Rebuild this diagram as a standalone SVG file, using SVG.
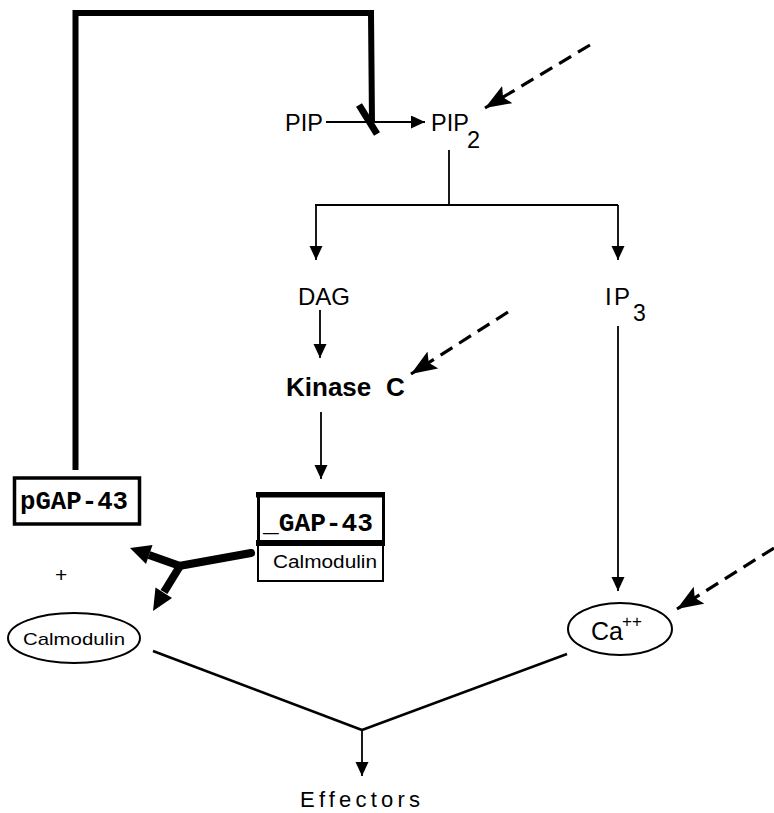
<svg xmlns="http://www.w3.org/2000/svg" width="774" height="813" viewBox="0 0 774 813">
<defs>
<style>
.t{font-family:"Liberation Sans",Arial,sans-serif;fill:#000}
.m{font-family:"Liberation Mono","DejaVu Sans Mono",monospace;font-weight:bold;fill:#000}
.ln{stroke:#000;stroke-width:1.8;fill:none}
.dash{stroke:#000;stroke-width:3.2;fill:none;stroke-dasharray:14 8}
.thick{stroke:#000;stroke-width:6;fill:none}
</style>
<marker id="ah" markerUnits="userSpaceOnUse" markerWidth="16" markerHeight="14" refX="14" refY="6.5" orient="auto">
<path d="M0,0 L14,6.5 L0,13 Z" fill="#000"/>
</marker>
<marker id="dh" markerUnits="userSpaceOnUse" markerWidth="28" markerHeight="22" refX="26" refY="10" orient="auto">
<path d="M0,0 L26,10 L0,20 L5,10 Z" fill="#000"/>
</marker>
</defs>
<g id="connectors">
<polyline class="thick" points="75.5,470 75.5,13 371,13 372,123"/>
<line x1="359" y1="105" x2="377" y2="134" stroke="#000" stroke-width="7"/>
<line class="ln" x1="326" y1="122" x2="425" y2="122" marker-end="url(#ah)"/>
<line class="dash" x1="590" y1="45" x2="485" y2="108" marker-end="url(#dh)"/>
<line class="ln" x1="449" y1="150" x2="449" y2="205"/>
<line class="ln" x1="315" y1="205" x2="618" y2="205"/>
<line class="ln" x1="316" y1="205" x2="316" y2="260" marker-end="url(#ah)"/>
<line class="ln" x1="618" y1="205" x2="618" y2="260" marker-end="url(#ah)"/>
<line class="ln" x1="320" y1="310" x2="320" y2="358" marker-end="url(#ah)"/>
<line class="dash" x1="508" y1="312" x2="411" y2="374" marker-end="url(#dh)"/>
<line class="ln" x1="321" y1="412" x2="321" y2="479" marker-end="url(#ah)"/>
<line class="ln" x1="618" y1="326" x2="618" y2="591" marker-end="url(#ah)"/>
<line class="dash" x1="774" y1="548" x2="677" y2="609" marker-end="url(#dh)"/>
<line x1="251" y1="553" x2="179" y2="566" stroke="#000" stroke-width="8" stroke-linecap="round"/>
<line x1="180" y1="566" x2="149" y2="555" stroke="#000" stroke-width="8"/>
<polygon points="130,548 152.5,545 146,564" fill="#000"/>
<line x1="180" y1="566" x2="164" y2="592" stroke="#000" stroke-width="8"/>
<polygon points="153,611 172,598 155.5,587.5" fill="#000"/>
<line x1="153" y1="651" x2="362" y2="730" stroke="#000" stroke-width="2.5"/>
<line x1="567" y1="654" x2="362" y2="730" stroke="#000" stroke-width="2.5"/>
<line class="ln" x1="362" y1="730" x2="362" y2="776" marker-end="url(#ah)"/>
</g>
<g id="PIP"><text class="t" x="285" y="131" font-size="23.5">PIP</text></g>
<g id="PIP2"><text class="t" x="431" y="131" font-size="23.5">PIP</text><text class="t" x="467" y="148" font-size="23.5">2</text></g>
<g id="DAG"><text class="t" x="298" y="305" font-size="24">DAG</text></g>
<g id="IP3"><text class="t" x="605" y="305" font-size="24">I</text><text class="t" x="614" y="305" font-size="24">P</text><text class="t" x="633" y="321" font-size="23">3</text></g>
<g id="KinaseC"><text class="t" x="286" y="396" font-size="26" font-weight="bold">Kinase</text><text class="t" x="386" y="396" font-size="26" font-weight="bold">C</text></g>
<g id="pGAP43">
<rect x="14.5" y="478" width="125" height="46" fill="none" stroke="#000" stroke-width="3.5"/>
<text class="m" x="20" y="509" font-size="25" textLength="108" lengthAdjust="spacingAndGlyphs">pGAP-43</text>
</g>
<g id="plus"><text class="t" x="55" y="582" font-size="21">+</text></g>
<g id="GAP43Calmodulin">
<rect x="256" y="492" width="129" height="5.5" fill="#000"/>
<line x1="258.5" y1="497" x2="258.5" y2="541" stroke="#000" stroke-width="3"/>
<line x1="383.5" y1="497" x2="383.5" y2="541" stroke="#000" stroke-width="3"/>
<rect x="256" y="540" width="129" height="6" fill="#000"/>
<polyline points="258,546 258,581 383,581 383,546" fill="none" stroke="#000" stroke-width="2"/>
<text class="m" x="263" y="531" font-size="25" textLength="110" lengthAdjust="spacingAndGlyphs">_GAP-43</text>
<text class="t" x="273" y="568" font-size="17.5" textLength="104" lengthAdjust="spacingAndGlyphs">Calmodulin</text>
</g>
<g id="Calmodulin">
<ellipse cx="74" cy="638" rx="66" ry="25" fill="none" stroke="#000" stroke-width="2"/>
<text class="t" x="23" y="645" font-size="17" textLength="102" lengthAdjust="spacingAndGlyphs">Calmodulin</text>
</g>
<g id="Ca">
<ellipse cx="620" cy="629" rx="52" ry="26" fill="none" stroke="#000" stroke-width="2"/>
<text class="t" x="591" y="640" font-size="25">Ca</text>
<text class="t" x="622" y="627" font-size="17">++</text>
</g>
<g id="Effectors"><text class="t" x="300" y="807" font-size="22" textLength="120" lengthAdjust="spacing">Effectors</text></g>
</svg>
